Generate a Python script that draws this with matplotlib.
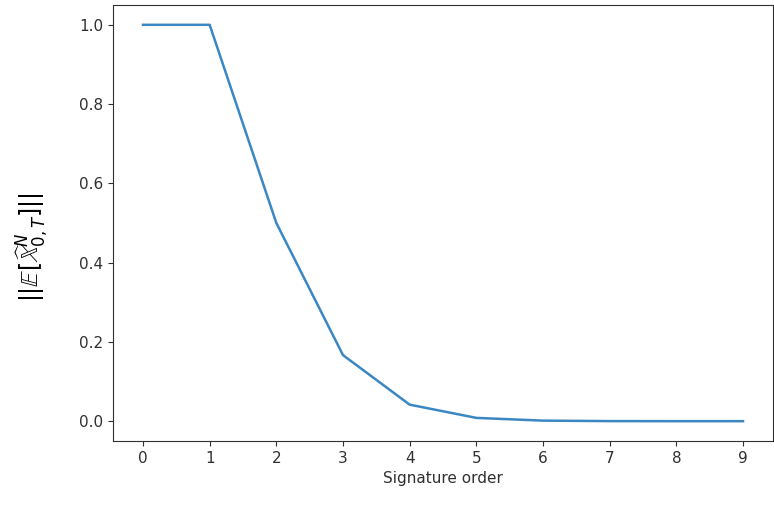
import matplotlib
matplotlib.use("Agg")
import matplotlib.pyplot as plt

# signature order vs norm of expected signature level
orders = [0, 1, 2, 3, 4, 5, 6, 7, 8, 9]
norms = [1.0, 1.0, 0.5, 0.1667, 0.0417, 0.0083, 0.0014, 0.0002, 0.00002, 0.000003]

INK = "#303030"

fig = plt.figure(figsize=(7.74, 5.05), dpi=100)
ax = fig.add_axes([113 / 774, 64 / 505, 660 / 774, 436 / 505])
ax.plot(orders, norms, color="#3a87c3", linewidth=1.8)
ax.set_xticks(orders)
ax.tick_params(labelsize=11, colors=INK)
for s in ax.spines.values():
    s.set_color(INK)
ax.set_xlabel("Signature order", fontsize=11, color=INK)
ax.set_ylabel(r"$||\mathbb{E}[\widehat{\mathbb{X}}^N_{0,T}]||$", fontsize=17,
              color="black")
ax.yaxis.set_label_coords(-0.094, 0.445)
fig.savefig("out.png", dpi=100)
